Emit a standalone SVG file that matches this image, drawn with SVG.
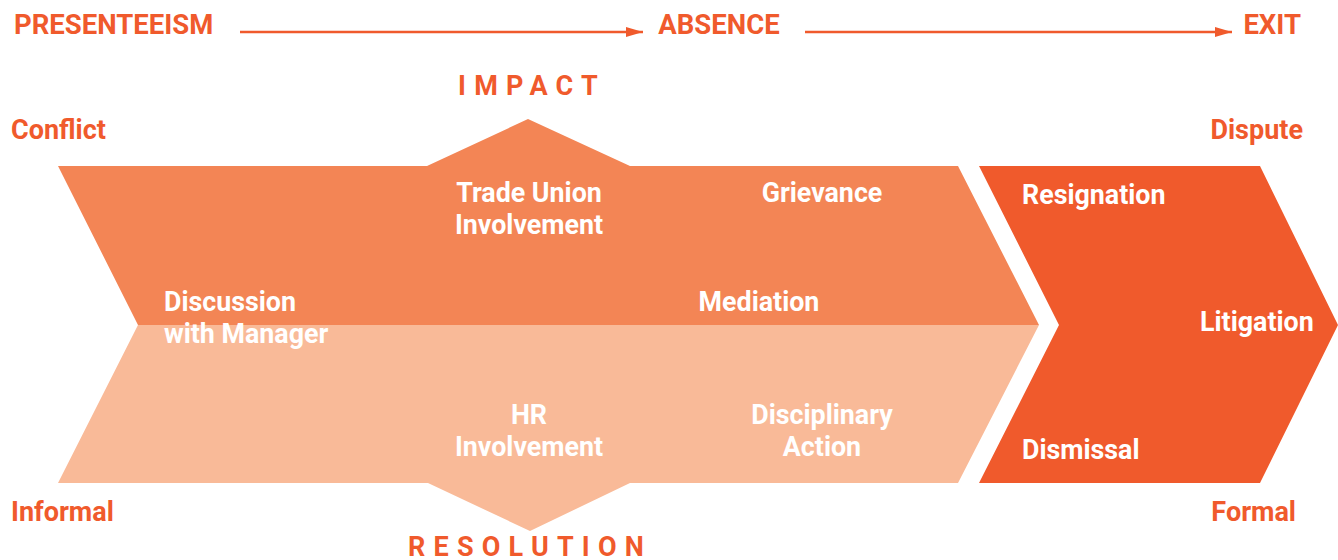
<svg xmlns="http://www.w3.org/2000/svg" width="1338" height="560" viewBox="0 0 1338 560">
<style>
text{font-family:Roboto,"Liberation Sans",sans-serif;font-weight:bold}
.hdr{fill:#F05A2C;font-size:27.5px}
.lbl{fill:#F05A2C;font-size:27px}
.sp{fill:#F05A2C;font-size:27px;letter-spacing:8.2px}
.w{fill:#FFFFFF;font-size:26.8px}
.c{text-anchor:middle}
.r{text-anchor:end}
.conn{stroke:#F05A2C;stroke-width:2.5;fill:none}
</style>
<defs>
<marker id="ah" viewBox="0 0 17 10" refX="17" refY="5" markerWidth="17" markerHeight="10" markerUnits="userSpaceOnUse" orient="auto">
<path d="M0,0 L17,5 L0,10 Z" fill="#F05A2C"/>
</marker>
</defs>
<g id="connectors">
<line class="conn" x1="240" y1="32" x2="643" y2="32" marker-end="url(#ah)"/>
<line class="conn" x1="805" y1="32" x2="1232" y2="32" marker-end="url(#ah)"/>
</g>
<g id="labels">
<text class="hdr" x="14" y="34">PRESENTEEISM</text>
<text class="hdr c" x="719" y="34">ABSENCE</text>
<text class="hdr r" x="1301" y="34">EXIT</text>
<text class="sp c" x="532" y="95">IMPACT</text>
<text class="sp c" x="530" y="556">RESOLUTION</text>
<text class="lbl" x="11" y="139">Conflict</text>
<text class="lbl r" x="1303" y="139">Dispute</text>
<text class="lbl" x="11" y="521">Informal</text>
<text class="lbl r" x="1296" y="521">Formal</text>
</g>
<g id="impact-band">
<polygon points="58,166 427,166 528,119 630,166 958,166 1039,325 138,325" fill="#F38555"/>
</g>
<g id="resolution-band">
<polygon points="138,325 1039,325 958,483 630,483 530,531 428,483 58,483" fill="#F9BA98"/>
</g>
<g id="exit-chevron">
<polygon points="979,166 1260,166 1338,325 1260,483 979,483 1059,325" fill="#F05A2C"/>
</g>
<g id="node-trade-union">
<text class="w c" x="529" y="202">Trade Union</text>
<text class="w c" x="529" y="234">Involvement</text>
</g>
<g id="node-grievance">
<text class="w c" x="822" y="202">Grievance</text>
</g>
<g id="node-discussion">
<text class="w" x="164" y="311">Discussion</text>
<text class="w" x="164" y="343">with Manager</text>
</g>
<g id="node-mediation">
<text class="w c" x="759" y="311">Mediation</text>
</g>
<g id="node-hr">
<text class="w c" x="529" y="424">HR</text>
<text class="w c" x="529" y="456">Involvement</text>
</g>
<g id="node-disciplinary">
<text class="w c" x="822" y="424">Disciplinary</text>
<text class="w c" x="822" y="456">Action</text>
</g>
<g id="node-resignation">
<text class="w" x="1022" y="204">Resignation</text>
</g>
<g id="node-litigation">
<text class="w" x="1200" y="331">Litigation</text>
</g>
<g id="node-dismissal">
<text class="w" x="1022" y="459">Dismissal</text>
</g>
</svg>
